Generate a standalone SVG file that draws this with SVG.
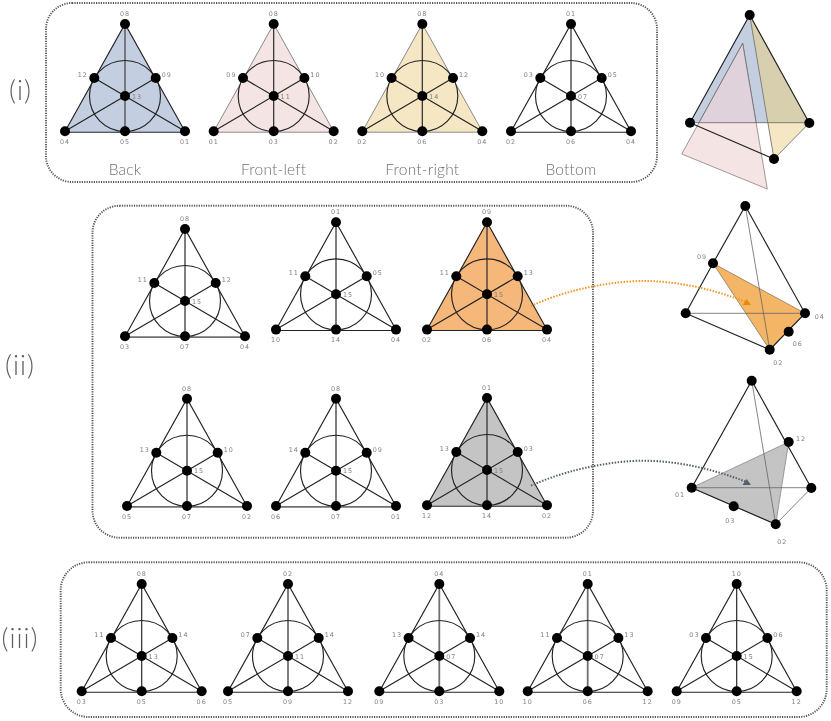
<svg xmlns="http://www.w3.org/2000/svg" width="831" height="721" viewBox="0 0 831 721">
<style>
.frame{fill:none;stroke:#555;stroke-width:1.9;stroke-dasharray:1.2 1.2}
.k{stroke:#222;stroke-width:1.15;fill:none}
.g{stroke:#707070;stroke-width:1.8;fill:none}
.e{stroke:#888;stroke-width:1;fill:none}
.t{stroke:#666;stroke-width:.8;fill:none}
text{font-family:"DejaVu Sans",sans-serif;font-size:6.4px;letter-spacing:1px;fill:#808080;text-anchor:middle}
text.cap{font-family:"Lato","Liberation Sans",sans-serif;font-weight:300;font-size:15.5px;letter-spacing:.2px;fill:#707070}
text.num{font-family:"Lato","Liberation Sans",sans-serif;font-weight:300;font-size:27px;letter-spacing:1px;fill:#606060}
.a1{fill:none;stroke:#f0962a;stroke-width:2;stroke-dasharray:1.5 1.5}
.a2{fill:none;stroke:#555f6b;stroke-width:2;stroke-dasharray:1.5 1.5}
</style>
<defs>
<filter id="soft" filterUnits="userSpaceOnUse" x="0" y="0" width="831" height="721"><feGaussianBlur stdDeviation=".3"/></filter>
<path id="tri" d="M-60 108L0 0L60 108Z"/>
<path id="sides" d="M-60 107.5L0 0L60 107.5"/>
<path id="base" d="M-60 108.2H60"/>
<path id="vert" d="M0 0V107.3"/>
<g id="core" class="k"><path d="M-60 107.3L30.7 54M60 107.3L-30.7 54"/><circle cx="0" cy="72" r="35.5"/></g>
<g id="dots"><circle cx="0" cy="0" r="5"/><circle cx="-30.7" cy="54" r="5"/><circle cx="30.7" cy="54" r="5"/><circle cx="0" cy="72" r="5"/><circle cx="-60" cy="107.3" r="5"/><circle cx="0" cy="107.3" r="5"/><circle cx="60" cy="107.3" r="5"/></g>
</defs>
<g filter="url(#soft)">
<g id="frames">
<rect class="frame" x="46" y="3" width="611" height="179" rx="26"/>
<rect class="frame" x="92.500" y="205.700" width="500.500" height="332" rx="27"/>
<rect class="frame" x="60.700" y="562.300" width="766" height="154.700" rx="28"/>
</g>

<text class="num" x="20.500" y="100">(i)</text>
<text class="num" x="20" y="375">(ii)</text>
<text class="num" x="20" y="648">(iii)</text>

<g id="back" transform="translate(125,24)">
<use href="#tri" fill="#c3cfe0"/><use href="#sides" class="k"/><use href="#base" class="k"/><use href="#vert" class="g"/><use href="#core"/><use href="#dots"/>
<text x="0" y="-8">08</text><text x="-42.300" y="53">12</text><text x="41.700" y="53">09</text><text x="12" y="74.500">13</text><text x="-60" y="120">04</text><text x="0" y="120">05</text><text x="60" y="120">01</text>
<text class="cap" x="0" y="151">Back</text>
</g>
<g id="front-left" transform="translate(273.700,24)">
<use href="#tri" fill="#f5e4e4"/><use href="#sides" class="e"/><use href="#base" class="e"/><use href="#vert" class="k"/><use href="#core"/><use href="#dots"/>
<text x="0" y="-8">08</text><text x="-42.300" y="53">09</text><text x="41.700" y="53">10</text><text x="12" y="74.500">11</text><text x="-60" y="120">01</text><text x="0" y="120">03</text><text x="60" y="120">02</text>
<text class="cap" x="0" y="151">Front-left</text>
</g>
<g id="front-right" transform="translate(422.300,24)">
<use href="#tri" fill="#f5e6c4"/><use href="#sides" class="e"/><use href="#base" class="e"/><use href="#vert" class="k"/><use href="#core"/><use href="#dots"/>
<text x="0" y="-8">08</text><text x="-42.300" y="53">10</text><text x="41.700" y="53">12</text><text x="12" y="74.500">14</text><text x="-60" y="120">02</text><text x="0" y="120">06</text><text x="60" y="120">04</text>
<text class="cap" x="0" y="151">Front-right</text>
</g>
<g id="bottom" transform="translate(571,24)">
<use href="#sides" class="k"/><use href="#base" class="k"/><use href="#vert" class="g"/><use href="#core"/><use href="#dots"/>
<text x="0" y="-8">01</text><text x="-42.300" y="53">03</text><text x="41.700" y="53">05</text><text x="12" y="74.500">07</text><text x="-60" y="120">02</text><text x="0" y="120">06</text><text x="60" y="120">04</text>
<text class="cap" x="0" y="151">Bottom</text>
</g>

<g id="tetra-i">
<polygon points="749.700,15 690,122.700 768.700,123" fill="#c3cfe0"/>
<polygon points="749.700,15 809.300,123 774,159" fill="#f5e6c4"/>
<polygon points="749.700,15 809.300,123 768.700,123" fill="#d8cfae"/>
<polygon points="742.700,43.300 681.700,154 767.300,189" fill="#f5e4e4" stroke="#8a8080" stroke-width=".8"/>
<polygon points="742.700,43.300 698.800,123 756.200,123" fill="#dfd2da"/>
<path class="k" d="M690 122.700L749.700 15L809.300 123M690 122.700L774 159"/>
<path class="t" d="M690 122.700H809.300M749.700 15L774 159M809.300 123L774 159M742.700 43.300L698.800 123M742.700 43.300L756.200 123"/>
<circle cx="749.700" cy="15" r="5"/><circle cx="690" cy="122.700" r="5"/><circle cx="809.300" cy="123" r="5"/><circle cx="774" cy="159" r="5"/>
</g>

<g id="f-a" transform="translate(185,229)">
<use href="#sides" class="k"/><use href="#base" class="g"/><use href="#vert" class="g"/><use href="#core"/><use href="#dots"/>
<text x="0" y="-8">08</text><text x="-42.300" y="53">11</text><text x="41.700" y="53">12</text><text x="12" y="74.500">15</text><text x="-60" y="120">03</text><text x="0" y="120">07</text><text x="60" y="120">04</text>
</g>
<g id="f-b" transform="translate(336,222.300)">
<use href="#sides" class="k"/><use href="#base" class="k"/><use href="#vert" class="g"/><use href="#core"/><use href="#dots"/>
<text x="0" y="-8">01</text><text x="-42.300" y="53">11</text><text x="41.700" y="53">05</text><text x="12" y="74.500">15</text><text x="-60" y="120">10</text><text x="0" y="120">14</text><text x="60" y="120">04</text>
</g>
<g id="f-c" transform="translate(487,222.300)">
<use href="#tri" fill="#f5b87a"/><use href="#sides" class="k"/><use href="#base" class="k"/><use href="#vert" class="k"/><use href="#core"/><use href="#dots"/>
<text x="0" y="-8">09</text><text x="-42.300" y="53">11</text><text x="41.700" y="53">13</text><text x="12" y="74.500">15</text><text x="-60" y="120">02</text><text x="0" y="120">06</text><text x="60" y="120">04</text>
</g>
<g id="f-d" transform="translate(187,398.700)">
<use href="#sides" class="k"/><use href="#base" class="g"/><use href="#vert" class="g"/><use href="#core"/><use href="#dots"/>
<text x="0" y="-8">08</text><text x="-42.300" y="53">13</text><text x="41.700" y="53">10</text><text x="12" y="74.500">15</text><text x="-60" y="120">05</text><text x="0" y="120">07</text><text x="60" y="120">02</text>
</g>
<g id="f-e" transform="translate(336,398.700)">
<use href="#sides" class="k"/><use href="#base" class="g"/><use href="#vert" class="g"/><use href="#core"/><use href="#dots"/>
<text x="0" y="-8">08</text><text x="-42.300" y="53">14</text><text x="41.700" y="53">09</text><text x="12" y="74.500">15</text><text x="-60" y="120">06</text><text x="0" y="120">07</text><text x="60" y="120">01</text>
</g>
<g id="f-f" transform="translate(487,398)">
<use href="#tri" fill="#c4c4c4"/><use href="#sides" class="k"/><use href="#base" class="k"/><use href="#vert" class="k"/><use href="#core"/><use href="#dots"/>
<text x="0" y="-8">01</text><text x="-42.300" y="53">13</text><text x="41.700" y="53">03</text><text x="12" y="74.500">15</text><text x="-60" y="120">12</text><text x="0" y="120">14</text><text x="60" y="120">02</text>
</g>

<g id="tetra-ii-a">
<polygon points="713,263.300 805,313.300 769.700,349.700" fill="#f5b566" stroke="#8a7a60" stroke-width=".8"/>
<path class="k" d="M713 263.300L745.300 206L805 313.300L769.700 349.700L685.700 313.300L713 263.300"/>
<path class="t" d="M685.700 313.300H805M745.300 206L769.700 349.700"/>
<circle cx="745.300" cy="206" r="5"/><circle cx="685.700" cy="313.300" r="5"/><circle cx="805" cy="313.300" r="5"/><circle cx="769.700" cy="349.700" r="5"/><circle cx="713" cy="263.300" r="5"/><circle cx="788.700" cy="331.700" r="5"/>
<text x="702" y="259">09</text><text x="819.700" y="319">04</text><text x="797.700" y="345.500">06</text><text x="778.300" y="365.300">02</text>
</g>
<g id="tetra-ii-b">
<polygon points="691.700,487.700 788.700,442 775.700,524.300" fill="#c4c4c4" stroke="#888" stroke-width=".8"/>
<path class="k" d="M691.700 487.700L751.700 380.700L811.300 488M691.700 487.700L775.700 524.300"/>
<path class="t" d="M691.700 487.700H811.300M751.700 380.700L775.700 524.300M811.300 488L775.700 524.300"/>
<circle cx="751.700" cy="380.700" r="5"/><circle cx="691.700" cy="487.700" r="5"/><circle cx="811.300" cy="488" r="5"/><circle cx="775.700" cy="524.300" r="5"/><circle cx="788.700" cy="442" r="5"/><circle cx="733.700" cy="506.300" r="5"/>
<text x="801" y="440.500">12</text><text x="680" y="496.500">01</text><text x="730.300" y="523.300">03</text><text x="782.300" y="544.300">02</text>
</g>

<g id="connectors">
<path class="a1" d="M531 306C570 288 615 281 643 281C680 281 715 290 746 302"/>
<polygon points="742.700,305 751,305 746.700,299" fill="#e8890c"/>
<path class="a2" d="M531 485.700C570 468 615 460.700 643 460.700C680 460.700 715 470 746 481.700"/>
<polygon points="742.500,485 751,485 746.700,479" fill="#555f6b"/>
</g>

<g id="r-a" transform="translate(141.700,584)">
<use href="#sides" class="k"/><use href="#base" class="k"/><use href="#vert" class="k"/><use href="#core"/><use href="#dots"/>
<text x="0" y="-8">08</text><text x="-42.300" y="53">11</text><text x="41.700" y="53">14</text><text x="12" y="74.500">13</text><text x="-60" y="120">03</text><text x="0" y="120">05</text><text x="60" y="120">06</text>
</g>
<g id="r-b" transform="translate(288,584)">
<use href="#sides" class="k"/><use href="#base" class="k"/><use href="#vert" class="g"/><use href="#core"/><use href="#dots"/>
<text x="0" y="-8">02</text><text x="-42.300" y="53">07</text><text x="41.700" y="53">14</text><text x="12" y="74.500">11</text><text x="-60" y="120">05</text><text x="0" y="120">09</text><text x="60" y="120">12</text>
</g>
<g id="r-c" transform="translate(439.300,584)">
<use href="#sides" class="k"/><use href="#base" class="k"/><use href="#vert" class="g"/><use href="#core"/><use href="#dots"/>
<text x="0" y="-8">04</text><text x="-42.300" y="53">13</text><text x="41.700" y="53">14</text><text x="12" y="74.500">07</text><text x="-60" y="120">09</text><text x="0" y="120">03</text><text x="60" y="120">10</text>
</g>
<g id="r-d" transform="translate(587.700,584)">
<use href="#sides" class="k"/><use href="#base" class="k"/><use href="#vert" class="g"/><use href="#core"/><use href="#dots"/>
<text x="0" y="-8">01</text><text x="-42.300" y="53">11</text><text x="41.700" y="53">13</text><text x="12" y="74.500">07</text><text x="-60" y="120">10</text><text x="0" y="120">06</text><text x="60" y="120">12</text>
</g>
<g id="r-e" transform="translate(736.700,584)">
<use href="#sides" class="k"/><use href="#base" class="k"/><use href="#vert" class="k"/><use href="#core"/><use href="#dots"/>
<text x="0" y="-8">10</text><text x="-42.300" y="53">03</text><text x="41.700" y="53">06</text><text x="12" y="74.500">15</text><text x="-60" y="120">09</text><text x="0" y="120">05</text><text x="60" y="120">12</text>
</g>
</g>
</svg>
